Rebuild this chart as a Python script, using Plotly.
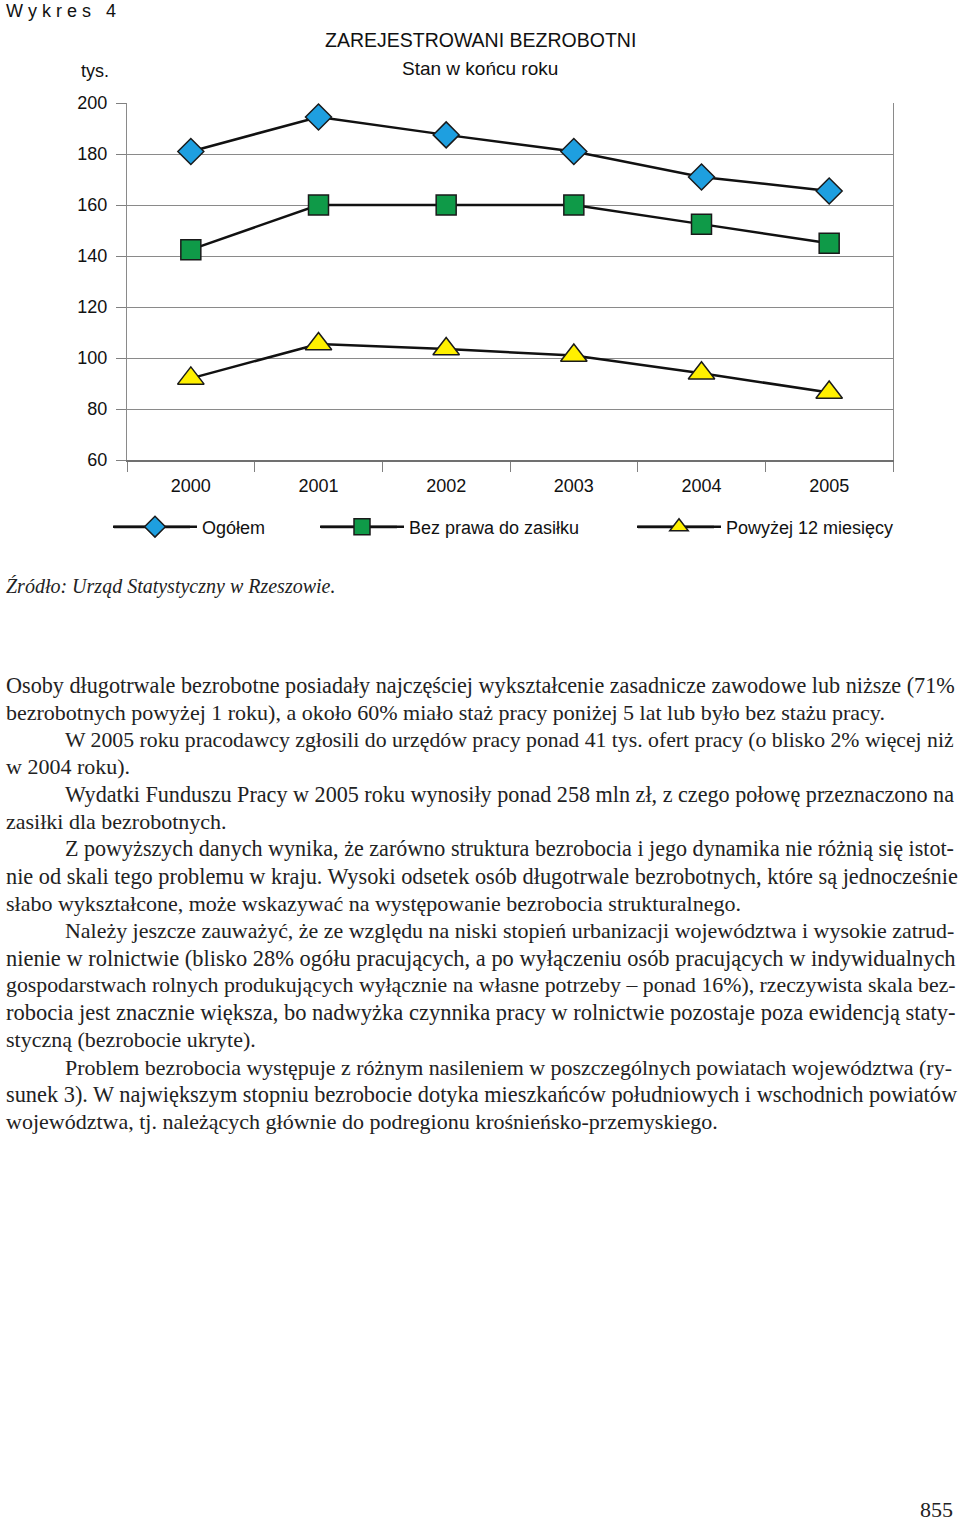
import plotly.graph_objects as go

W, H = 960, 1525

years = ["2000", "2001", "2002", "2003", "2004", "2005"]
ogolem = [181, 194.5, 187.5, 181, 171, 165.5]
bez_prawa = [142.5, 160, 160, 160, 152.5, 145]
powyzej = [92, 105.5, 103.5, 101, 94, 86.5]
y_ticks = [60, 80, 100, 120, 140, 160, 180, 200]

series_names = ["Ogółem", "Bez prawa do zasiłku", "Powyżej 12 miesięcy"]
series_values = [ogolem, bez_prawa, powyzej]

paragraph_lines = [
    "Osoby długotrwale bezrobotne posiadały najczęściej wykształcenie zasadnicze zawodowe lub niższe (71%",
    "bezrobotnych powyżej 1 roku), a około 60% miało staż pracy poniżej 5 lat lub było bez stażu pracy.",
    "W 2005 roku pracodawcy zgłosili do urzędów pracy ponad 41 tys. ofert pracy (o blisko 2% więcej niż",
    "w 2004 roku).",
    "Wydatki Funduszu Pracy w 2005 roku wynosiły ponad 258 mln zł, z czego połowę przeznaczono na",
    "zasiłki dla bezrobotnych.",
    "Z powyższych danych wynika, że zarówno struktura bezrobocia i jego dynamika nie różnią się istot-",
    "nie od skali tego problemu w kraju. Wysoki odsetek osób długotrwale bezrobotnych, które są jednocześnie",
    "słabo wykształcone, może wskazywać na występowanie bezrobocia strukturalnego.",
    "Należy jeszcze zauważyć, że ze względu na niski stopień urbanizacji województwa i wysokie zatrud-",
    "nienie w rolnictwie (blisko 28% ogółu pracujących, a po wyłączeniu osób pracujących w indywidualnych",
    "gospodarstwach rolnych produkujących wyłącznie na własne potrzeby – ponad 16%), rzeczywista skala bez-",
    "robocia jest znacznie większa, bo nadwyżka czynnika pracy w rolnictwie pozostaje poza ewidencją staty-",
    "styczną (bezrobocie ukryte).",
    "Problem bezrobocia występuje z różnym nasileniem w poszczególnych powiatach województwa (ry-",
    "sunek 3). W największym stopniu bezrobocie dotyka mieszkańców południowych i wschodnich powiatów",
    "województwa, tj. należących głównie do podregionu krośnieńsko-przemyskiego.",
]

# ---- styling / layout helpers (not data) ----
marker_styles = [
    dict(symbol="diamond", size=20, color="#1e9fe0"),
    dict(symbol="square", size=20, color="#0f9a48"),
    dict(symbol="triangle-up", size=23, color="#fff000"),
]
legend_ids = ["legend", "legend2", "legend3"]
legend_marker_px = [154, 361, 678]
para_indent = [4, 4, 63, 4, 63, 4, 63, 4, 4, 63, 4, 4, 4, 4, 63, 4, 4]
para_size = [22.2, 22, 21.75, 22, 22.15, 22, 22.1, 22.3, 22, 21.95, 22.45, 21.8, 22.5, 22, 21.95, 22.35, 22]


def py(px):
    return 1 - px / H


def pxx(px):
    return px / W


SANS = "Liberation Sans, Arial, sans-serif"
SERIF = "Liberation Serif, Times New Roman, serif"

fig = go.Figure()
for name, vals, ms, leg in zip(series_names, series_values, marker_styles, legend_ids):
    fig.add_trace(go.Scatter(
        x=years, y=vals, name=name, mode="lines+markers",
        line=dict(color="#111111", width=2.5),
        marker=dict(symbol=ms["symbol"], size=ms["size"], color=ms["color"],
                    line=dict(color="#1a1a1a", width=1.5)),
        legend=leg, cliponaxis=False,
    ))

legend_y = py(527)
legend_common = dict(orientation="h", yanchor="middle", y=legend_y, xanchor="left",
                     bgcolor="rgba(0,0,0,0)", borderwidth=0, itemwidth=84,
                     font=dict(family=SANS, size=18, color="#111111"))
layout_legends = {}
for leg, lx in zip(legend_ids, legend_marker_px):
    layout_legends[leg] = dict(legend_common, x=pxx(lx - 46))

annotations = [
    dict(text="W y k r e s   4", x=pxx(4), y=py(11), xanchor="left", yanchor="middle",
         font=dict(family=SANS, size=18, color="#111111")),
    dict(text="ZAREJESTROWANI BEZROBOTNI", x=pxx(480), y=py(40), xanchor="center", yanchor="middle",
         font=dict(family=SANS, size=19.5, color="#111111")),
    dict(text="Stan w końcu roku", x=pxx(480), y=py(68), xanchor="center", yanchor="middle",
         font=dict(family=SANS, size=19, color="#111111")),
    dict(text="tys.", x=pxx(95), y=py(71), xanchor="center", yanchor="middle",
         font=dict(family=SANS, size=18, color="#111111")),
    dict(text="<i>Źródło: Urząd Statystyczny w Rzeszowie.</i>", x=pxx(4), y=py(586), xanchor="left",
         yanchor="middle", font=dict(family=SERIF, size=20, color="#222222")),
    dict(text="855", x=pxx(955), y=py(1509), xanchor="right", yanchor="middle",
         font=dict(family=SERIF, size=22, color="#222222")),
]
for i, (line, lx, fs) in enumerate(zip(paragraph_lines, para_indent, para_size)):
    annotations.append(dict(text=line, x=pxx(lx), y=py(685 + i * 27.3), xanchor="left",
                            yanchor="middle", font=dict(family=SERIF, size=fs, color="#222222")))
for a in annotations:
    a.update(xref="paper", yref="paper", showarrow=False)

# long legend line segments
shapes = []
for lx in legend_marker_px:
    shapes.append(dict(type="line", xref="paper", yref="paper", x0=pxx(lx - 40), x1=pxx(lx + 36),
                       y0=legend_y, y1=legend_y, line=dict(color="#111111", width=2.5), layer="above"))

fig.update_layout(
    width=W, height=H, autosize=False,
    margin=dict(l=0, r=0, t=0, b=0, pad=0, autoexpand=False),
    paper_bgcolor="white", plot_bgcolor="white",
    showlegend=True,
    annotations=annotations, shapes=shapes,
    xaxis=dict(domain=[pxx(127), pxx(893)], type="category", range=[-0.5, 5.5],
               tickson="boundaries", ticks="outside", ticklen=10, tickcolor="#808080",
               tickwidth=1, showgrid=False, showline=True, linecolor="#707070", linewidth=1.5,
               tickfont=dict(family=SANS, size=18, color="#111111"), ticklabelstandoff=9,
               automargin=False),
    yaxis=dict(domain=[py(460), py(103)], range=[60, 200], tickvals=y_ticks,
               ticks="outside", ticklen=10, tickcolor="#808080", tickwidth=1,
               showgrid=True, gridcolor="#8a8a8a", gridwidth=1, zeroline=False,
               showline=True, linecolor="#8a8a8a", linewidth=1, mirror=True,
               tickfont=dict(family=SANS, size=18, color="#111111"), ticklabelstandoff=5,
               automargin=False),
    **layout_legends,
)

page_css = ("var s=document.createElement('style');"
            "s.innerHTML='html,body{margin:0 !important;padding:0 !important;overflow:hidden !important;}';"
            "document.head.appendChild(s);")

fig.write_html("out.html", config={"responsive": False, "displayModeBar": False},
               post_script=page_css)
